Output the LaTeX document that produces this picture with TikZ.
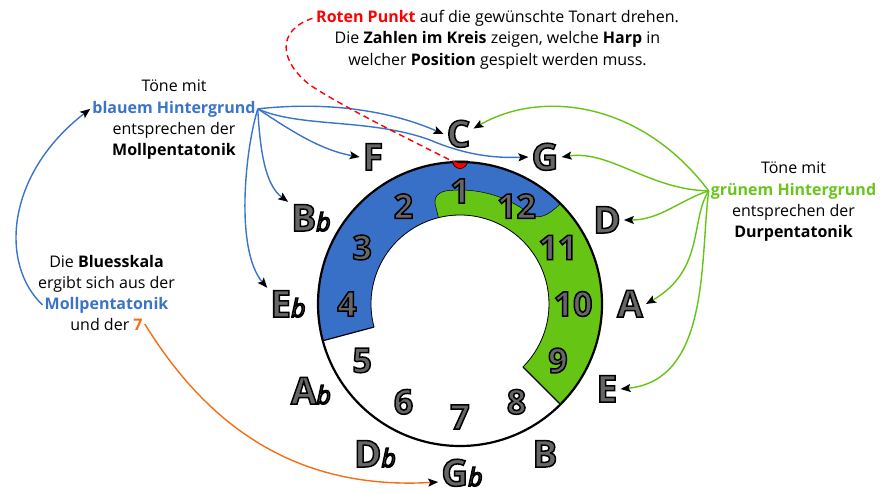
\documentclass[tikz,border=0pt]{standalone}
\usepackage{fontspec}
\setmainfont{Open Sans}
\usetikzlibrary{arrows.meta,calc}
\definecolor{ringblue}{RGB}{56,112,200}
\definecolor{ringgreen}{RGB}{102,196,20}
\definecolor{txtblue}{RGB}{58,116,200}
\definecolor{txtgreen}{RGB}{106,196,28}
\definecolor{txtorange}{RGB}{245,110,20}
\definecolor{notegray}{RGB}{102,102,102}
\newcommand{\olt}[1]{{\special{pdf:literal direct 0 0 0 RG 1.5 w 2 Tr}#1\special{pdf:literal direct 0 Tr}}}
\newcommand{\flt}{{\fontsize{25}{25}\selectfont\mdseries\itshape b}}
\tikzset{
  note/.style={font=\fontsize{37}{37}\selectfont\bfseries, text=notegray, inner sep=3pt, text height=26pt, text depth=0pt},
  num/.style={font=\fontsize{34}{34}\selectfont\bfseries, text=notegray, inner sep=0pt},
  txt/.style={font=\fontsize{16}{18}\selectfont, inner sep=2pt, anchor=base},
  conn/.style={line width=1.4pt, -{Stealth[color=black,length=10pt,width=8pt,inset=2pt]}},
  bconn/.style={conn, draw=txtblue},
  gconn/.style={conn, draw=ringgreen},
}
\begin{document}
\begin{tikzpicture}[x=1pt,y=-1pt]
\useasboundingbox (0,0) rectangle (882,493);
% ring
\begin{scope}[shift={(460,304)},yscale=-1]
  \fill[ringblue] (195:142) arc[start angle=195,end angle=45,radius=142] -- (45:89) arc[start angle=45,end angle=195,radius=89] -- cycle;
  \fill[ringgreen] (45:142) arc[start angle=45,end angle=-45,radius=142] -- (-45:89) arc[start angle=-45,end angle=45,radius=89] -- cycle;
  \fill[ringgreen] (104:89) -- (104:103) .. controls (103.5:113) and (99:115) .. (94:114) arc[start angle=94,end angle=51,radius=114] .. controls (47:116) and (45:125) .. (45:142) -- (45:89) arc[start angle=45,end angle=104,radius=89] -- cycle;
  \draw[line width=0.5pt] (104:89) -- (104:103) .. controls (103.5:113) and (99:115) .. (94:114) arc[start angle=94,end angle=51,radius=114] .. controls (47:116) and (45:125) .. (45:142);
  \draw[line width=0.8pt] (195:89) arc[start angle=195,end angle=-45,radius=89];
  \draw[line width=1.2pt] (195:89) -- (195:142) (-45:89) -- (-45:142);
  \filldraw[fill=red,draw=black,line width=0.6pt] (-7.5,143) arc[start angle=180,end angle=360,radius=7.5] -- cycle;
  \coordinate (dot) at (-2,140);
  \draw[line width=2.2pt] (0,0) circle[radius=142];
  \foreach \k in {1,...,12}{
    \node[num] (n\k) at ({90+30*(\k-1)}:113) {\olt{\k}};
  }
\end{scope}
% notes
\node[note] (nC) at (458.5,134) {\olt{C}};
\node[note] (nG) at (545,157) {\olt{G}};
\node[note] (nD) at (607,220) {\olt{D}};
\node[note] (nA) at (630,304) {\olt{A}};
\node[note] (nE) at (607,389) {\olt{E}};
\node[note] (nB) at (545,454) {\olt{B}};
\node[note] (nGb) at (462,473) {\olt{G\flt}};
\node[note] (nDb) at (375,454) {\olt{D\flt}};
\node[note] (nAb) at (311,391) {\olt{A\flt}};
\node[note] (nEb) at (288,304) {\olt{E\flt}};
\node[note] (nBb) at (311,218) {\olt{B\flt}};
\node[note] (nF) at (373,157) {\olt{F}};
% texts
\node[txt] (rp) at (497.5,22) {{\color{red}\bfseries Roten Punkt} auf die gewünschte Tonart drehen.};
\node[txt] (t2) at (497.5,43.5) {Die \textbf{Zahlen im Kreis} zeigen, welche \textbf{Harp} in};
\node[txt] (t3) at (497.5,65) {welcher \textbf{Position} gespielt werden muss.};
\node[txt] (bl1) at (174,91) {Töne mit};
\node[txt] (bH) at (174,113) {{\color{txtblue}\bfseries blauem Hintergrund}};
\node[txt] (bl3) at (174,134) {entsprechen der};
\node[txt] (bl4) at (174,155) {\textbf{Mollpentatonik}};
\node[txt] (lb1) at (106.5,267) {Die \textbf{Bluesskala}};
\node[txt] (lb2) at (106.5,288) {ergibt sich aus der};
\node[txt] (lb3) at (106.5,309) {{\color{txtblue}\bfseries Mollpentatonik}};
\node[txt] (lb4) at (106.5,330) {und der {\color{txtorange}\bfseries 7}};
\node[txt] (gr1) at (793.5,173) {Töne mit};
\node[txt] (gH) at (793.5,195) {{\color{txtgreen}\bfseries grünem Hintergrund}};
\node[txt] (gr3) at (793.5,216) {entsprechen der};
\node[txt] (gr4) at (793.5,237) {\textbf{Durpentatonik}};
% blue connectors
\draw[bconn] (bH.east) .. controls (340,100) and (400,115) .. (nC.west);
\draw[bconn] (bH.east) .. controls (300,128) and (370,118) .. (430,140) .. controls (470,157) and (500,158) .. (nG.west);
\draw[bconn] (bH.east) .. controls (290,130) and (320,150) .. (nF.west);
\draw[bconn] (bH.east) .. controls (260,150) and (265,185) .. (nBb.north west);
\draw[bconn] (bH.east) .. controls (245,150) and (235,250) .. (nEb.north west);
\draw[bconn] (lb3.west) .. controls (0,265) and (5,175) .. (bH.west);
% green connectors
\draw[gconn] (gH.west) .. controls (640,100) and (540,90) .. (nC.20);
\draw[gconn] (gH.west) .. controls (650,190) and (610,150) .. (nG.east);
\draw[gconn] (gH.west) .. controls (680,200) and (660,220) .. (nD.east);
\draw[gconn] (gH.west) .. controls (690,220) and (705,270) .. (nA.east);
\draw[gconn] (gH.west) .. controls (700,260) and (710,380) .. (nE.east);
% orange
\draw[conn, draw=txtorange] (lb4.east) .. controls (210,430) and (300,490) .. ($(nGb.west)+(0,9)$);
% red dashed
\draw[red, line width=1.4pt, dash pattern=on 6pt off 4pt] (dot) .. controls (400,135) and (340,105) .. (310,85) .. controls (280,62) and (275,30) .. (rp.west);
\end{tikzpicture}
\end{document}
